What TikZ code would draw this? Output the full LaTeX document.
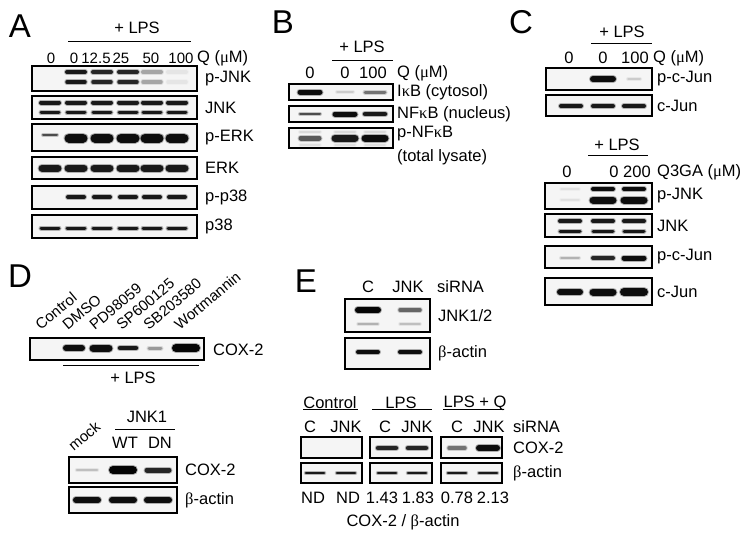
\documentclass[tikz,border=0pt]{standalone}
\usepackage{fontspec}
\setmainfont{Liberation Sans}
\newfontfamily\gr{Liberation Serif}
\newcommand\lb{\fontsize{16.5}{18}\selectfont}
\newcommand\um{({\gr μ}M)}
% band: x, y, half width, thickness, darkness
\newcommand\band[5]{%
  \draw[line width={#4+2}, line cap=round, black!#5, opacity=.3] ({#1-#3},#2)--({#1+#3},#2);
  \draw[line width=#4, line cap=round, black!#5] ({#1-#3},#2)--({#1+#3},#2);}
\begin{document}
\begin{tikzpicture}[x=1pt,y=-1pt,
  every node/.style={font=\lb, inner sep=0pt},
  blot/.style={draw, line width=1.2pt, fill=black!4},
  bar/.style={line width=1pt},
  num/.style={font=\fontsize{15}{17}\selectfont},
  tilt/.style={font=\fontsize{15}{17}\selectfont, rotate=40, anchor=south west},
  big/.style={font=\fontsize{33}{35}\selectfont}]
\useasboundingbox (0,0) rectangle (750,538);
\begin{scope}
\node[big] (A) at (20,26) {A};
\node (lpsA) at (137,28) {+ LPS};
\coordinate (lpsAl) at (68,41);
\coordinate (lpsAr) at (191,41);
\draw[bar] (lpsAl)--(lpsAr);
\foreach \x/\t [count=\i] in {51/0,74/0,96/12.5,121/25,151/50,181/100}
    \node[num] (qA\i) at (\x,58) {\t};
\node[anchor=west] (unitA) at (197,58) {Q \um};
\foreach \ya/\yb/\t/\n in {66/91/p-JNK/pjnk,96/119/JNK/jnk,124/151/p-ERK/perk,157/179/ERK/erk,186/209/p-p38/pp38,215/238/p38/p38}
{
    \draw[blot] (32,\ya) rectangle (197,\yb);
    \node[anchor=west] (A\n) at (205,{(\ya+\yb)/2}) {\t};
}
\foreach \x/\d in {76/90,102/85,128/85,152/35,177/10}
{
    \band{\x}{72}{9}{4}{\d}
    \band{\x}{82}{9}{3.5}{\d}
}
\foreach \x in {50,76,102,128,152,177}
{
    \band{\x}{102.5}{9}{4}{90}
    \band{\x}{112.5}{9}{3}{90}
    \band{\x}{168}{8}{7}{90}
    \band{\x}{228}{9}{3}{90}
}
\band{50}{135}{7}{2}{70}
\foreach \x in {76,102,128,152,177}
{
    \band{\x}{138}{7}{9}{95}
    \band{\x}{197}{8}{4}{90}
}
\end{scope}
\begin{scope}
\node[big] (B) at (283,22) {B};
\node (lpsB) at (362,47) {+ LPS};
\coordinate (lpsBl) at (332,60);
\coordinate (lpsBr) at (393,60);
\draw[bar] (lpsBl)--(lpsBr);
\foreach \x/\t [count=\i] in {310/0,345/0,373/100}
    \node (qB\i) at (\x,73) {\t};
\node[anchor=west] (unitB) at (397,73) {Q \um};
\foreach \ya/\yb/\t/\n in {84/100/I{\gr κ}B (cytosol)/ikb,106/122/NF{\gr κ}B (nucleus)/nfkb}
{
    \draw[blot] (289,\ya) rectangle (393,\yb);
    \node[anchor=west] (B\n) at (397,{(\ya+\yb)/2}) {\t};
}
\draw[blot] (289,128) rectangle (393,148);
\node[anchor=west] (Bpnfkb) at (397,134) {p-NF{\gr κ}B};
\node[anchor=west] (Blys) at (397,157) {(total lysate)};
\band{310}{92}{10}{5}{95}
\band{345}{92}{8}{2}{20}
\band{375}{92}{10}{3}{55}
\band{310}{114}{10}{2}{70}
\band{345}{114}{10}{5}{95}
\band{375}{114}{10}{4.5}{90}
\foreach \x in {310,345,375}
{
    \band{\x}{132}{10}{2}{15}
    \band{\x}{145}{10}{1.5}{12}
}
\band{310}{138}{9}{5}{65}
\band{345}{138}{10}{7}{90}
\band{375}{138}{10}{7}{95}
\end{scope}
\begin{scope}
\node[big] (C) at (521,22) {C};
\node (lpsC) at (622,32) {+ LPS};
\coordinate (lpsCl) at (591,43);
\coordinate (lpsCr) at (652,43);
\draw[bar] (lpsCl)--(lpsCr);
\foreach \x/\t [count=\i] in {569/0,603/0,635/100}
    \node (qC\i) at (\x,58) {\t};
\node[anchor=west] (unitC) at (653,58) {Q \um};
\foreach \ya/\yb/\t/\n in {68/90/p-c-Jun/pcjun,95/116/c-Jun/cjun}
{
    \draw[blot] (546,\ya) rectangle (652,\yb);
    \node[anchor=west] (C\n) at (657,{(\ya+\yb)/2}) {\t};
}
\band{603}{79}{10}{6}{95}
\band{634}{79}{6}{2}{20}
\foreach \x in {571,603,634}
{
    \band{\x}{106}{10}{4}{90}
}
\node (lpsCc) at (617,145) {+ LPS};
\coordinate (lpsCcl) at (588,155);
\coordinate (lpsCcr) at (648,155);
\draw[bar] (lpsCcl)--(lpsCcr);
\foreach \x/\t [count=\i] in {567/0,614/0,637/200}
    \node (gC\i) at (\x,172) {\t};
\node[anchor=west] (unitCc) at (657,172) {Q3GA \um};
\foreach \ya/\yb/\t/\n in {183/209/p-JNK/pjnk,214/237/JNK/jnk,246/268/p-c-Jun/pcjun2,278/305/c-Jun/cjun2}
{
    \draw[blot] (545,\ya) rectangle (652,\yb);
    \node[anchor=west] (C\n) at (657,{(\ya+\yb)/2}) {\t};
}
\band{570}{189}{9}{1.5}{12}
\band{570}{200}{9}{1.5}{12}
\foreach \x in {603,634}
{
    \band{\x}{189}{10}{4}{95}
    \band{\x}{200}{10}{7}{95}
}
\foreach \x in {570,603,634}
{
    \band{\x}{221}{10}{4}{90}
    \band{\x}{231}{10}{3}{90}
}
\band{570}{258}{9}{2}{30}
\band{603}{258}{10}{4}{85}
\band{634}{258}{10}{5}{95}
\band{570}{292}{10}{6}{95}
\band{603}{292}{10}{7}{95}
\band{634}{292}{10}{8}{95}
\end{scope}
\begin{scope}
\node[big] (D) at (20,276) {D};
\foreach \x/\t in {47/Control,74/DMSO,101/PD98059,128/SP600125,155/SB203580,186/Wortmannin}
    \node[tilt] (D\t) at (\x-6,331) {\t};
\draw[blot] (30,338) rectangle (204,360);
\node[anchor=west] (Dcox) at (213,350) {COX-2};
\coordinate (lpsDl) at (63,365);
\coordinate (lpsDr) at (199,365);
\draw[bar] (lpsDl)--(lpsDr);
\node (lpsD) at (133,378) {+ LPS};
\band{74}{348}{8}{6}{95}
\band{101}{348}{8}{7}{95}
\band{128}{348}{8}{4.5}{90}
\band{155}{348}{6}{3}{40}
\band{186}{348}{10}{8}{98}
\node (jnkD) at (147,417) {JNK1};
\coordinate (jnkDl) at (115,429);
\coordinate (jnkDr) at (175,429);
\draw[bar] (jnkDl)--(jnkDr);
\node (wtD) at (125,443) {WT};
\node (dnD) at (160,443) {DN};
\node[tilt] (mockD) at (74,452) {mock};
\foreach \ya/\yb/\t/\n in {457/483/COX-2/cox,487/513/{\gr β}-actin/act}
{
    \draw[blot] (69,\ya) rectangle (177,\yb);
    \node[anchor=west] (D\n) at (185,{(\ya+\yb)/2}) {\t};
}
\band{87}{470}{10}{2.5}{25}
\band{123}{470}{10}{8}{98}
\band{158}{470}{11}{5}{85}
\foreach \x in {87,123,158}
{
    \band{\x}{500}{11}{6}{95}
}
\end{scope}
\begin{scope}
\node[big] (E) at (306,281) {E};
\node (cE) at (368,287) {C};
\node (jE) at (408,287) {JNK};
\node[anchor=west] (siE) at (437,287) {siRNA};
\draw[blot] (345,299) rectangle (430,332);
\node[anchor=west] (Ejnk) at (438,316) {JNK1/2};
\draw[blot] (345,338) rectangle (430,369);
\node[anchor=west] (Eact) at (438,353) {{\gr β}-actin};
\band{368}{310}{10}{6}{98}
\band{410}{310}{10}{3.5}{60}
\band{368}{324}{10}{1.5}{30}
\band{410}{324}{10}{1.5}{25}
\band{368}{352}{10}{4}{95}
\band{410}{352}{10}{4}{95}
\foreach \t/\c/\l/\r [count=\i] in {Control/330/303/358,LPS/401/372/432,LPS + Q/475/443/504}
{
    \node (gE\i) at (\c,403) {\t};
    \coordinate (gE\i l) at (\l,409);
    \coordinate (gE\i r) at (\r,409);
    \draw[bar] (gE\i l)--(gE\i r);
}
\foreach \x/\t [count=\i] in {310/C,346/JNK,385/C,417/JNK,457/C,489/JNK}
    \node (sE\i) at (\x,427) {\t};
\node[anchor=west] (siEb) at (513,427) {siRNA};
\foreach \xa/\xb in {301/362,370/432,441/502}
{
    \draw[blot] (\xa,437) rectangle (\xb,458);
    \draw[blot] (\xa,463) rectangle (\xb,483);
}
\node[anchor=west] (Ecox) at (513,448) {COX-2};
\node[anchor=west] (Eact2) at (513,473) {{\gr β}-actin};
\band{387}{448}{9}{4.5}{85}
\band{417}{448}{9}{4.5}{85}
\band{457}{448}{8}{3.5}{55}
\band{488}{448}{9}{6}{95}
\foreach \x in {315,346,387,417,457,488}
{
    \band{\x}{473}{9}{2.5}{90}
}
\foreach \x/\t [count=\i] in {313/ND,348/ND,382/1.43,418/1.83,457/0.78,493/2.13}
    \node (nE\i) at (\x,498) {\t};
\node (ratioE) at (403,522) {COX-2 / {\gr β}-actin};
\end{scope}
\end{tikzpicture}
\end{document}
